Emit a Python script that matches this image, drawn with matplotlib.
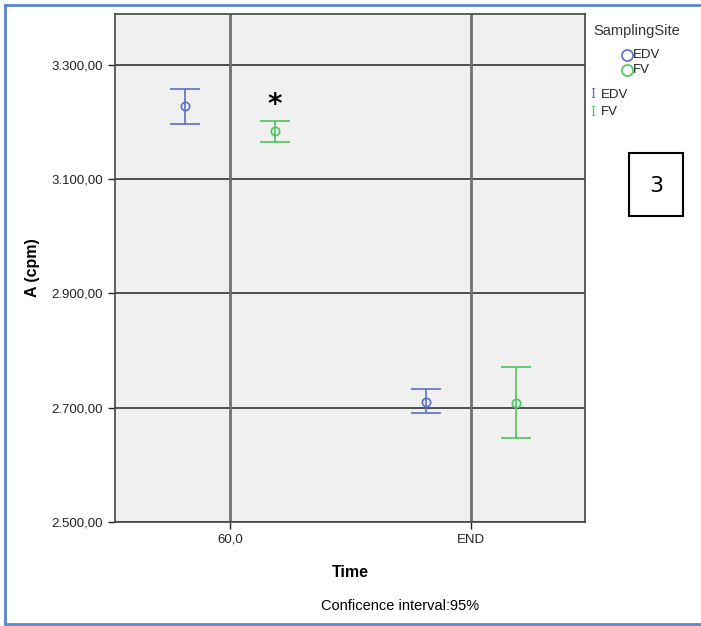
import numpy as np
import matplotlib.pyplot as plt
from matplotlib.lines import Line2D

plt.rcParams['font.family'] = ['Liberation Sans', 'DejaVu Sans']

# data
times = ['60,0', 'END']
sites = ['EDV', 'FV']
colors = ['#5a6fc2', '#4cc45a']
means = {'EDV': [3228, 2710], 'FV': [3185, 2709]}
upper = {'EDV': [3258, 2732], 'FV': [3202, 2772]}
lower = {'EDV': [3197, 2691], 'FV': [3165, 2647]}
yticks = [2500, 2700, 2900, 3100, 3300]
ytick_labels = ['2.500,00', '2.700,00', '2.900,00', '3.100,00', '3.300,00']

fig = plt.figure(figsize=(7.01, 6.26), dpi=100)
W, H = 701, 626
ax = fig.add_axes([115/W, 1-522/H, 470/W, 508/H])
ax.set_facecolor('#f0f0f0')

x = np.arange(len(times))
offs = [-0.186, 0.186]
for s, c, o in zip(sites, colors, offs):
    m = np.array(means[s]); up = np.array(upper[s]); lo = np.array(lower[s])
    ax.errorbar(x + o, m, yerr=[m - lo, up - m], fmt='o', mfc='none', mec=c,
                ms=6, mew=1.2, ecolor=c, elinewidth=1.2, capsize=11, capthick=1.2,
                zorder=5)

# asterisk over FV at 60
ax.text(x[0] + offs[1], 3230, '*', ha='center', va='center', fontsize=20,
        fontweight='bold', color='black', family='DejaVu Sans')

ax.set_xlim(-0.477, 1.473)
ax.set_ylim(2500, 3389)
ax.set_xticks(x)
ax.set_xticklabels(times)
ax.set_yticks(yticks)
ax.set_yticklabels(ytick_labels)
ax.tick_params(labelsize=9.5, colors='#222222', length=5, width=1)
for t in yticks:
    ax.axhline(t, color='#222222', lw=1.1, zorder=1)
for xi in x:
    ax.axvline(xi, color='#707070', lw=2, zorder=1)
for sp in ax.spines.values():
    sp.set_color('#444444')
    sp.set_linewidth(1.2)

ax.set_xlabel('Time', fontsize=11.5, fontweight='bold', labelpad=14)
ax.set_ylabel('A (cpm)', fontsize=11.5, fontweight='bold', labelpad=8)

fig.text(400/W, 1-606/H, 'Conficence interval:95%', ha='center', va='center', fontsize=10.5)

# legend
fig.text(593/W, 1-31/H, 'SamplingSite', ha='left', va='center', fontsize=10.5, color='#333333')
for i, (s, c) in enumerate(zip(sites, colors)):
    yy = 1 - (55 + i*15)/H
    fig.add_artist(Line2D([627/W], [yy], marker='o', mfc='none', mec=c, ms=8, mew=1.2))
    fig.text(633/W, yy, s, ha='left', va='center', fontsize=9.5, color='#222222')
for i, (s, c) in enumerate(zip(sites, colors)):
    yy = 1 - (95 + i*17)/H
    fig.text(590/W, yy, 'I', ha='left', va='center', fontsize=9, color=c, family='DejaVu Serif')
    fig.text(601/W, yy, s, ha='left', va='center', fontsize=9.5, color='#222222')

# boxed label
fig.add_artist(plt.Rectangle((629/W, 1-216/H), 54/W, 63/H, fill=False, ec='black', lw=1.5))
fig.text(656/W, 1-186/H, '3', ha='center', va='center', fontsize=16, family='DejaVu Sans')

# blue frame
bc = '#5b86c8'
fig.add_artist(Line2D([5/W, 5/W], [1-5/H, 1-624/H], color=bc, lw=2))
fig.add_artist(Line2D([5/W, 1], [1-5/H, 1-5/H], color=bc, lw=2))
fig.add_artist(Line2D([5/W, 1], [1-624/H, 1-624/H], color=bc, lw=2))

fig.savefig('out.png', dpi=100)
